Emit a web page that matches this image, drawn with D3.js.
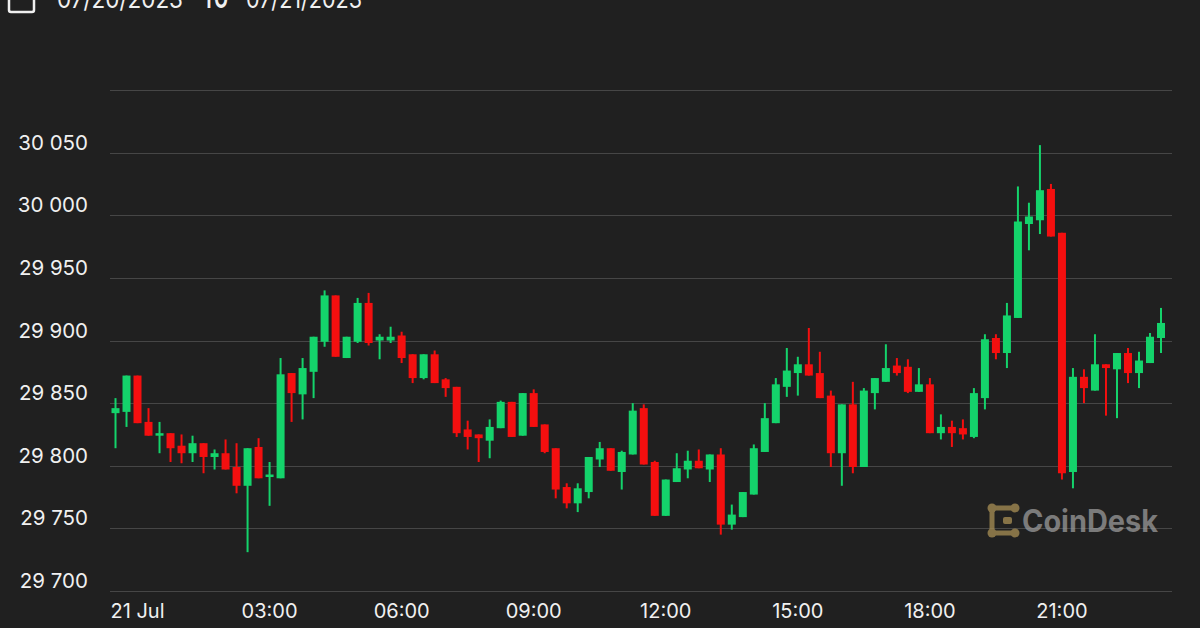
<!DOCTYPE html>
<html><head><meta charset="utf-8">
<script src="https://cdn.jsdelivr.net/npm/d3@7"></script>
<style>html,body{margin:0;padding:0;background:#202020;} svg{display:block;}</style>
</head><body><svg id="c" width="1200" height="628"></svg>
<script>
// ---- DATA ----
const startTime = "2023-07-20T23:30:00Z";
const intervalMinutes = 15;
const opens = [29842,29843,29872,29835,29824,29826,29816,29810,29818,29807,29810,29799,29784,29815,29791,29790,29874,29857,29875,29899,29936,29886,29899,29930,29900,29900,29904,29889,29870,29889,29869,29863,29829,29825,29820,29830,29851,29824,29858,29833,29814,29783,29770,29779,29805,29814,29795,29809,29846,29803,29760,29787,29797,29804,29797,29809,29753,29759,29777,29811,29834,29863,29874,29881,29874,29856,29810,29849,29799,29858,29867,29880,29879,29859,29865,29826,29831,29830,29823,29854,29902,29890,29918,29993,29996,30021,29986,29795,29871,29860,29881,29877,29890,29874,29882,29902];
const highs = [29854,29872,29872,29846,29835,29826,29825,29824,29818,29813,29821,29818,29814,29822,29803,29886,29874,29886,29903,29940,29936,29903,29934,29938,29905,29911,29907,29889,29889,29892,29870,29863,29836,29825,29837,29852,29851,29858,29861,29833,29814,29786,29786,29807,29819,29814,29812,29850,29849,29804,29789,29810,29812,29813,29809,29814,29769,29779,29817,29850,29870,29894,29887,29910,29891,29860,29849,29867,29862,29870,29897,29886,29885,29878,29870,29841,29836,29837,29862,29905,29905,29930,30023,30010,30056,30025,29986,29878,29877,29905,29881,29890,29894,29891,29906,29926];
const lows = [29814,29831,29834,29824,29810,29803,29802,29803,29794,29797,29797,29778,29731,29790,29768,29790,29835,29837,29854,29895,29887,29886,29898,29896,29885,29898,29882,29866,29869,29866,29855,29823,29813,29803,29806,29830,29823,29824,29831,29810,29774,29766,29763,29774,29799,29796,29781,29809,29801,29760,29760,29787,29790,29798,29787,29745,29749,29759,29777,29811,29834,29855,29856,29872,29854,29799,29784,29794,29799,29845,29867,29872,29858,29859,29826,29821,29815,29821,29822,29845,29885,29878,29918,29972,29985,29983,29789,29782,29850,29860,29840,29838,29866,29862,29882,29890];
const closes = [29846,29872,29834,29824,29826,29814,29810,29818,29807,29810,29797,29784,29814,29790,29793,29873,29858,29878,29903,29936,29887,29903,29930,29898,29903,29903,29886,29870,29889,29866,29862,29826,29823,29822,29831,29851,29823,29858,29831,29811,29781,29770,29782,29807,29814,29796,29811,29844,29801,29760,29789,29798,29804,29798,29809,29753,29761,29779,29814,29838,29865,29876,29881,29872,29854,29810,29849,29799,29860,29870,29878,29874,29859,29865,29826,29831,29826,29825,29858,29901,29890,29920,29995,29999,30020,29983,29794,29871,29862,29881,29878,29890,29874,29884,29903,29914];
const yTicks = [29700,29750,29800,29850,29900,29950,30000,30050,30100];
const yLabelTicks = [29700,29750,29800,29850,29900,29950,30000,30050];
const xTicks = ["2023-07-21T00:00:00Z","2023-07-21T03:00:00Z","2023-07-21T06:00:00Z","2023-07-21T09:00:00Z","2023-07-21T12:00:00Z","2023-07-21T15:00:00Z","2023-07-21T18:00:00Z","2023-07-21T21:00:00Z"];
const xDomain = ["2023-07-20T23:22:30Z","2023-07-21T23:30:00Z"];
const headerFrom = "07/20/2023", headerTo = "07/21/2023", headerSep = "TO";
const brand = "CoinDesk";

// ---- CHART ----
const svg = d3.select("#c");
const W = 1200, H = 628;
svg.append("rect").attr("width", W).attr("height", H).attr("fill", "#202020");
const plot = {left: 110, right: 1172, top: 90, bottom: 591};
const x = d3.scaleUtc().domain(xDomain.map(d => new Date(d))).range([plot.left, plot.right]);
const y = d3.scaleLinear().domain([29700, 30100]).range([plot.bottom, plot.top]);
const t0 = new Date(startTime).getTime();
const data = opens.map((o, i) => ({
  t: new Date(t0 + i * intervalMinutes * 60000), o, h: highs[i], l: lows[i], c: closes[i]
}));
const locale = d3.formatLocale({decimal: ".", thousands: " ", grouping: [3], currency: ["", ""]});
const fmt = locale.format(",");
const FONT = "Inter, 'Noto Sans', sans-serif";

// grid
svg.append("g").selectAll("line").data(yTicks).join("line")
  .attr("x1", plot.left).attr("x2", plot.right)
  .attr("y1", d => Math.round(y(d)) + 0.5).attr("y2", d => Math.round(y(d)) + 0.5)
  .attr("stroke", "#464646").attr("stroke-width", 1);

// y labels
svg.append("g").selectAll("text").data(yLabelTicks).join("text")
  .attr("x", 88).attr("y", d => y(d) - 3)
  .attr("text-anchor", "end").attr("fill", "#f0f0f0")
  .attr("font-family", FONT).attr("font-size", 20.5)
  .text(d => fmt(d));

// x labels
const xFmt = d => (d.getUTCHours() === 0 && d.getUTCMinutes() === 0) ? d3.utcFormat("%-d %b")(d) : d3.utcFormat("%H:%M")(d);
svg.append("g").selectAll("text").data(xTicks.map(d => new Date(d))).join("text")
  .attr("x", d => x(d)).attr("y", 618)
  .attr("text-anchor", "middle").attr("fill", "#f0f0f0")
  .attr("font-family", FONT).attr("font-size", 20)
  .text(xFmt);

// watermark
const wm = svg.append("g").attr("opacity", 0.75);
wm.append("path").attr("d", "M1015,508 H992 V533 H1015")
  .attr("fill", "none").attr("stroke", "#a88f55").attr("stroke-width", 5).attr("stroke-linejoin", "round");
[[1015,508],[992,508],[992,533],[1015,533]].forEach(p =>
  wm.append("circle").attr("cx", p[0]).attr("cy", p[1]).attr("r", 4.5).attr("fill", "#a88f55"));
wm.append("rect").attr("x", 1003).attr("y", 517).attr("width", 9).attr("height", 7).attr("rx", 2).attr("fill", "#a88f55");
wm.append("text").attr("x", 1022).attr("y", 532)
  .attr("font-family", FONT).attr("font-weight", 700).attr("font-size", 31)
  .attr("fill", "#9a9a9a").attr("textLength", 136).attr("lengthAdjust", "spacingAndGlyphs")
  .text(brand);

// candles
const GREEN = "#14d36b", RED = "#f40f0f";
const bw = 8;
const cg = svg.append("g");
const candle = cg.selectAll("g").data(data).join("g");
candle.append("line")
  .attr("x1", d => x(d.t)).attr("x2", d => x(d.t))
  .attr("y1", d => y(d.h)).attr("y2", d => y(d.l))
  .attr("stroke", d => d.c >= d.o ? GREEN : RED).attr("stroke-width", 2);
candle.append("rect")
  .attr("x", d => x(d.t) - bw / 2).attr("width", bw)
  .attr("y", d => y(Math.max(d.o, d.c)))
  .attr("height", d => Math.max(2, Math.abs(y(d.o) - y(d.c))))
  .attr("fill", d => d.c >= d.o ? GREEN : RED);

// header (cut off at top, as in the reference)
svg.append("rect").attr("x", 9).attr("y", -14).attr("width", 25).attr("height", 26).attr("rx", 2)
  .attr("fill", "none").attr("stroke", "#f0f0f0").attr("stroke-width", 2.5);
const ht = svg.append("text").attr("y", 8).attr("font-family", FONT).attr("font-size", 25).attr("fill", "#f0f0f0");
ht.append("tspan").attr("x", 57).attr("textLength", 126).attr("lengthAdjust", "spacingAndGlyphs").text(headerFrom);
ht.append("tspan").attr("x", 203).attr("font-weight", 700).attr("textLength", 25).attr("lengthAdjust", "spacingAndGlyphs").text(headerSep);
ht.append("tspan").attr("x", 246).attr("textLength", 116).attr("lengthAdjust", "spacingAndGlyphs").text(headerTo);
</script>
</body></html>
